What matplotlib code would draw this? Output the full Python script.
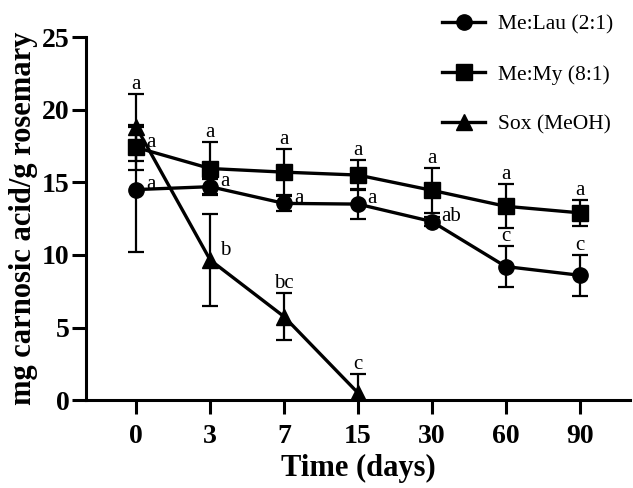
import matplotlib
matplotlib.use("Agg")
import matplotlib.pyplot as plt
from matplotlib.lines import Line2D

plt.rcParams['font.family'] = ['Liberation Serif', 'DejaVu Serif']

days = ["0", "3", "7", "15", "30", "60", "90"]

lau_mean = [14.5, 14.7, 13.55, 13.5, 12.3, 9.2, 8.6]
lau_err = [4.3, 0.5, 0.5, 1.05, 0.3, 1.4, 1.4]
lau_letters = ["a", "a", "a", "a", "ab", "c", "c"]

my_mean = [17.4, 15.95, 15.7, 15.5, 14.45, 13.35, 12.9]
my_err = [1.55, 1.85, 1.6, 1.05, 1.55, 1.5, 0.9]
my_letters = ["a", "a", "a", "a", "a", "a", "a"]

sox_mean = [18.8, 9.65, 5.75, 0.5]
sox_err = [2.3, 3.2, 1.6, 1.3]
sox_letters = ["a", "b", "bc", "c"]

fig = plt.figure(figsize=(6.33, 4.88), dpi=100)
ax = fig.add_axes([0.136, 0.180, 0.859, 0.744])

x_all = list(range(len(days)))
x_sox = list(range(len(sox_mean)))

lw = 2.4
ebkw = dict(elinewidth=1.6, capsize=6, capthick=1.6, ecolor='black', zorder=3)

ax.errorbar(x_all, lau_mean, yerr=lau_err, color='black', lw=lw, marker='o',
            markersize=11, **ebkw)
ax.errorbar(x_all, my_mean, yerr=my_err, color='black', lw=lw, marker='s',
            markersize=11, **ebkw)
ax.errorbar(x_sox, sox_mean, yerr=sox_err, color='black', lw=lw, marker='^',
            markersize=11, **ebkw)

fs_let = 15

def above(x, y, e, txt):
    ax.annotate(txt, (x, y + e), xytext=(0, 0), textcoords='offset points',
                ha='center', va='bottom', fontsize=fs_let)

def right(x, y, txt, dy=2):
    ax.annotate(txt, (x, y), xytext=(7, dy), textcoords='offset points',
                ha='left', va='bottom', fontsize=fs_let)

# Me:Lau letters
for i, (m, e, t) in enumerate(zip(lau_mean, lau_err, lau_letters)):
    if i >= 5:
        above(i, m, e, t)
    else:
        right(i, m, t, dy=-3)
# Me:My letters
for i, (m, e, t) in enumerate(zip(my_mean, my_err, my_letters)):
    if i == 0:
        right(i, m, t, dy=-3)
    else:
        above(i, m, e, t)
# Sox letters
for i, (m, e, t) in enumerate(zip(sox_mean, sox_err, sox_letters)):
    if i == 1:
        right(i, m, t, dy=0)
    else:
        above(i, m, e, t)

ax.set_xlim(-0.68, 6.68)
ax.set_ylim(0, 25)
ax.set_xticks(x_all)
ax.set_xticklabels(days)
ax.set_yticks([0, 5, 10, 15, 20, 25])
for s in ['top', 'right']:
    ax.spines[s].set_visible(False)
for s in ['left', 'bottom']:
    ax.spines[s].set_linewidth(2.2)
ax.tick_params(axis='both', width=2.2, length=10, labelsize=20)
ax.tick_params(axis='x', pad=7)
ax.tick_params(axis='y', pad=2)
for lab in ax.get_xticklabels() + ax.get_yticklabels():
    lab.set_fontweight('bold')

ax.set_xlabel("Time (days)", fontsize=22, fontweight='bold', labelpad=4)
ax.set_ylabel("mg carnosic acid/g rosemary", fontsize=22, fontweight='bold', labelpad=3)

handles = [Line2D([], [], color='black', lw=lw, marker=m, markersize=11) for m in ['o', 's', '^']]
labels = ["Me:Lau (2:1)", "Me:My (8:1)", "Sox (MeOH)"]
leg = fig.legend(handles, labels, loc='upper right', bbox_to_anchor=(1.0, 1.01),
                 frameon=False, fontsize=15.5, labelspacing=1.4, handlelength=2.0,
                 handletextpad=0.6)

fig.savefig("out.png", dpi=100)
